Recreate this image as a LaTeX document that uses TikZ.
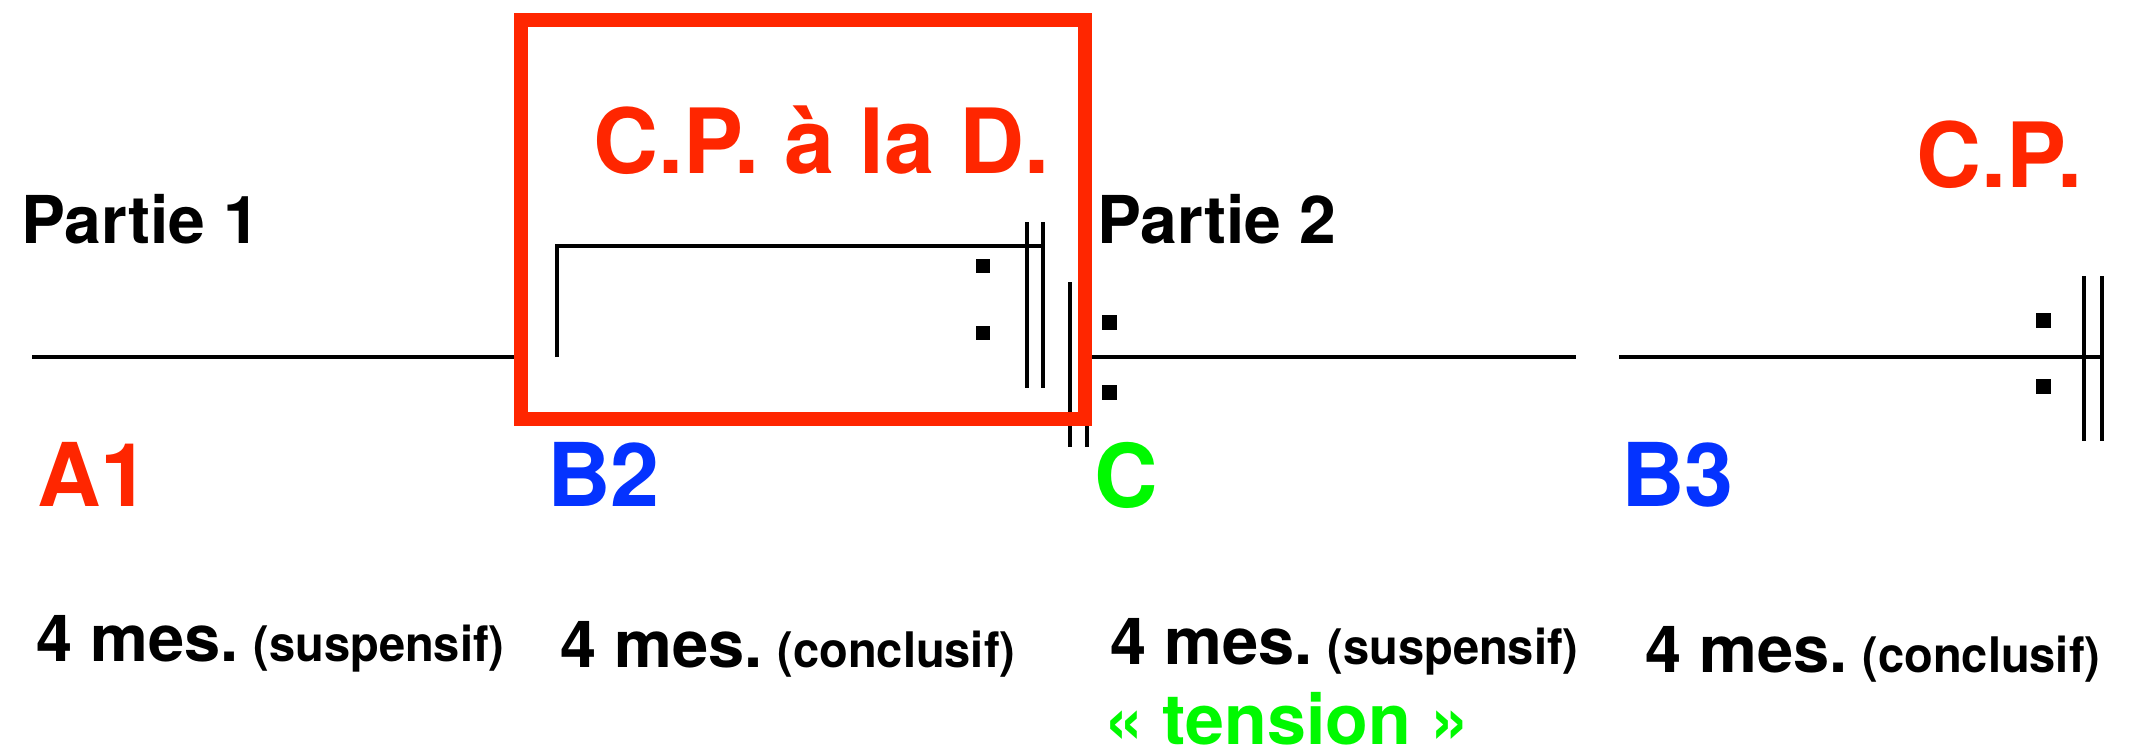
\documentclass[tikz,border=0pt]{standalone}
\usepackage{fontspec}
\usepackage{graphicx}
\setmainfont{TeX Gyre Heros}
\definecolor{cpred}{HTML}{FF2600}
\definecolor{cpblue}{HTML}{0433FF}
\definecolor{cpgreen}{HTML}{00F900}
\newcommand{\paren}[1]{{\fontsize{49}{49}\selectfont\scalebox{0.96}[1]{#1}}}
\begin{document}
\begin{tikzpicture}[x=1pt,y=-1pt,
  lbl/.style={anchor=base west,inner sep=0pt,font=\bfseries},
  staff/.style={line width=4.5pt,black},
  dot/.style={fill=black},
  redbox/.style={draw=cpred,line width=14pt}]
\useasboundingbox (0,0) rectangle (2143,752);
% staff lines
\draw[staff] (32,357) -- (515,357);
\draw[staff] (1092,357) -- (1576,357);
\draw[staff] (1619,357) -- (2103,357);
% bracket (volta)
\draw[staff] (557,357) -- (557,246) -- (1044,246);
% repeat bars in box
\draw[staff] (1027,222) -- (1027,388);
\draw[staff] (1043,222) -- (1043,388);
\fill[dot] (976,259) rectangle (990,273);
\fill[dot] (976,326) rectangle (990,340);
% second double bar
\draw[staff] (1070,282) -- (1070,447);
\draw[staff] (1087,282) -- (1087,447);
\fill[dot] (1102,315) rectangle (1117,330);
\fill[dot] (1102,385) rectangle (1117,400);
% final repeat
\draw[staff] (2084,276) -- (2084,441);
\draw[staff] (2102,276) -- (2102,441);
\fill[dot] (2036,313) rectangle (2051,328);
\fill[dot] (2036,379) rectangle (2051,394);
% red box
\draw[redbox] (521,20) rectangle (1085,419);
% labels
\node[lbl,font=\bfseries\fontsize{66}{66}\selectfont] (p1) at (21,243) {Partie 1};
\node[lbl,font=\bfseries\fontsize{66}{66}\selectfont] (p2) at (1097,243) {Partie 2};
\node[lbl,text=cpred,font=\bfseries\fontsize{90}{90}\selectfont] (cpd) at (593,173) {C.P. à la D.};
\node[lbl,text=cpred,font=\bfseries\fontsize{90}{90}\selectfont] (cp) at (1916,187) {C.P.};
\node[lbl,text=cpred,font=\bfseries\fontsize{88}{88}\selectfont] (a1) at (37,506) {A1};
\node[lbl,text=cpblue,font=\bfseries\fontsize{88}{88}\selectfont] (b2) at (547,506) {B2};
\node[lbl,text=cpgreen,font=\bfseries\fontsize{88}{88}\selectfont] (c) at (1094,507) {C};
\node[lbl,text=cpblue,font=\bfseries\fontsize{88}{88}\selectfont] (b3) at (1621,506) {B3};
\node[lbl,font=\bfseries\fontsize{65}{65}\selectfont] (m1) at (36,661) {4 mes.\hspace{15pt}\paren{(suspensif)}};
\node[lbl,font=\bfseries\fontsize{65}{65}\selectfont] (m2) at (560,667) {4 mes.\hspace{15pt}\paren{(conclusif)}};
\node[lbl,font=\bfseries\fontsize{65}{65}\selectfont] (m3) at (1110,664) {4 mes.\hspace{15pt}\paren{(suspensif)}};
\node[lbl,font=\bfseries\fontsize{65}{65}\selectfont] (m4) at (1645,672) {4 mes.\hspace{15pt}\paren{(conclusif)}};
\node[lbl,text=cpgreen,font=\bfseries\fontsize{70}{70}\selectfont] (t) at (1104,744) {« tension »};
\end{tikzpicture}
\end{document}
